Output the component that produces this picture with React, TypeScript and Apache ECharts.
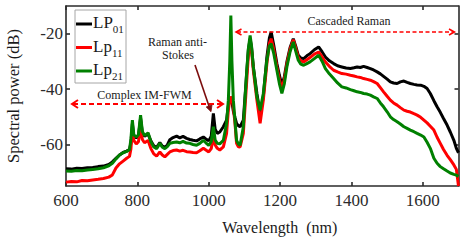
import React, { useEffect, useRef } from "react";
import * as echarts from "echarts";

const wavelengths = [
  600, 615, 630, 645, 660, 675, 690, 705, 720, 730,
  740, 750, 760, 770, 778, 782, 786, 790, 797, 803,
  809, 814, 820, 830, 838, 846, 854, 863, 870, 877,
  884, 891, 900, 910, 919, 928, 938, 947, 956, 966,
  975, 985, 992, 1000, 1007, 1013, 1018, 1024, 1031, 1041,
  1050, 1055, 1059, 1062, 1065, 1069, 1074, 1078, 1083, 1088,
  1097, 1106, 1111, 1116, 1120, 1125, 1135, 1144, 1153, 1163,
  1170, 1175, 1182, 1191, 1198, 1205, 1212, 1219, 1228, 1237,
  1244, 1251, 1258, 1266, 1275, 1284, 1296, 1308, 1318, 1327,
  1338, 1350, 1361, 1373, 1385, 1397, 1407, 1416, 1425, 1434,
  1444, 1453, 1462, 1472, 1481, 1490, 1500, 1509, 1518, 1528,
  1537, 1547, 1556, 1565, 1575, 1584, 1594, 1603, 1612, 1621,
  1631, 1640, 1649, 1658, 1668, 1677, 1687, 1694, 1700,
];

const lp01 = [
  -68.8, -68.9, -68.6, -68.7, -68.4, -68.3, -68.0, -67.8, -67.2, -66.3,
  -65.0, -63.8, -62.9, -62.4, -61.8, -59.5, -52.5, -57.0, -57.6, -57.0,
  -50.5, -55.8, -57.0, -56.2, -58.8, -60.5, -61.0, -59.3, -60.6, -61.0,
  -60.2, -58.3, -57.5, -57.0, -57.6, -57.1, -57.8, -58.2, -58.5, -58.7,
  -58.0, -57.3, -58.0, -58.7, -57.0, -48.8, -54.5, -56.0, -55.5, -53.6,
  -51.2, -46.0, -43.5, -43.0, -44.5, -48.0, -50.5, -52.4, -53.2, -53.6,
  -51.2, -35.0, -26.0, -21.8, -25.0, -32.0, -41.6, -48.8, -42.8, -28.4,
  -21.5, -19.4, -24.0, -30.8, -35.0, -38.6, -35.5, -30.2, -25.0, -21.8,
  -24.6, -27.8, -28.8, -29.0, -28.0, -27.2, -25.8, -24.8, -26.6, -28.4,
  -29.8, -30.8, -31.6, -32.0, -32.4, -32.6, -32.3, -32.0, -32.2, -31.8,
  -32.2, -32.6, -33.1, -33.8, -34.5, -35.4, -36.4, -37.4, -37.8, -38.0,
  -37.4, -37.1, -37.6, -38.0, -38.3, -38.5, -38.6, -39.0, -39.8, -41.6,
  -44.2, -46.4, -48.4, -50.6, -53.0, -55.5, -58.5, -61.4, -63.0,
];

const lp11 = [
  -73.6, -73.4, -73.5, -73.0, -73.1, -72.8, -72.6, -72.3, -71.8, -71.0,
  -68.5, -67.0, -66.0, -65.0, -64.3, -61.5, -54.5, -58.5, -59.8, -59.0,
  -54.0, -58.2, -59.4, -58.6, -61.5, -63.4, -64.2, -62.7, -63.8, -64.5,
  -63.6, -62.7, -62.2, -62.0, -62.4, -62.1, -62.6, -62.7, -62.9, -63.0,
  -62.3, -61.4, -62.0, -62.7, -61.5, -57.3, -60.2, -61.4, -62.0, -60.9,
  -56.0, -47.6, -44.0, -42.8, -43.5, -46.4, -53.0, -59.6, -60.8, -60.9,
  -56.0, -38.0, -28.0, -22.4, -26.0, -33.2, -44.0, -52.4, -44.0, -30.8,
  -23.5, -21.8, -25.5, -32.0, -36.5, -39.8, -36.5, -31.0, -25.6, -22.2,
  -25.3, -28.6, -29.8, -30.2, -29.4, -28.6, -27.4, -26.6, -28.4, -30.2,
  -31.8, -33.2, -33.8, -34.4, -34.6, -35.0, -35.3, -35.6, -35.8, -36.2,
  -36.5, -36.8, -37.3, -38.0, -39.5, -41.0, -42.6, -44.0, -45.0, -45.8,
  -46.7, -47.6, -48.0, -48.3, -48.9, -49.4, -50.2, -51.2, -52.2, -53.4,
  -54.8, -57.4, -59.6, -61.8, -63.9, -65.5, -67.4, -69.0, -75.0,
];

const lp21 = [
  -69.6, -69.7, -69.4, -69.5, -69.2, -69.0, -68.8, -68.4, -67.7, -66.8,
  -65.2, -63.8, -63.0, -62.5, -61.9, -58.0, -51.2, -56.5, -57.3, -56.5,
  -49.4, -55.3, -56.8, -55.8, -59.0, -60.9, -61.5, -59.6, -61.0, -61.5,
  -60.8, -59.6, -59.3, -59.1, -59.4, -58.9, -59.5, -59.6, -60.0, -60.3,
  -59.6, -58.5, -59.4, -60.3, -59.0, -53.6, -58.4, -59.6, -59.8, -58.5,
  -52.4, -44.0, -30.0, -13.4, -30.0, -44.0, -52.0, -58.5, -59.8, -60.3,
  -53.6, -34.4, -25.5, -20.6, -24.5, -32.0, -42.8, -47.6, -41.6, -29.6,
  -24.5, -23.6, -27.0, -33.2, -38.0, -41.6, -38.0, -32.0, -26.5, -23.0,
  -26.4, -29.6, -31.0, -31.4, -30.8, -30.2, -29.0, -27.8, -30.0, -32.6,
  -34.5, -36.2, -37.8, -39.2, -39.6, -40.2, -40.6, -41.0, -41.2, -41.6,
  -41.8, -42.2, -42.8, -43.4, -45.0, -46.4, -48.2, -50.0, -51.0, -51.8,
  -52.6, -53.6, -54.2, -54.8, -55.4, -56.0, -56.6, -57.3, -59.2, -61.4,
  -65.0, -66.8, -68.0, -68.8, -69.6, -70.3, -70.8, -71.1, -71.5,
];

const xTicks = [600, 800, 1000, 1200, 1400, 1600];
const yTicks = [-60, -40, -20];
const seriesNames = ["LP01", "Lp11", "Lp21"];
const legendMain = ["LP", "Lp", "Lp"];
const legendSub = ["01", "11", "21"];
const seriesColors = ["#000000", "#ff0000", "#008000"];

const FONT = "Liberation Serif";
const AXIS_COLOR = "#2b2b2b";

export default function App() {
  const ref = useRef<HTMLDivElement>(null);

  useEffect(() => {
    document.body.style.margin = "0";
    const chart = echarts.init(ref.current!, null, { renderer: "svg" });

    const allValues = [lp01, lp11, lp21];
    const series = allValues.map((vals, i) => ({
      name: seriesNames[i],
      type: "line",
      data: wavelengths.map((w, k) => [w, vals[k]]),
      showSymbol: false,
      symbol: "none",
      lineStyle: { color: seriesColors[i], width: 3 },
      itemStyle: { color: seriesColors[i] },
      z: 2 + i,
      clip: true,
    }));

    const axisLineStyle = { color: AXIS_COLOR, width: 1.6 };

    const legendGraphics: any[] = [
      {
        type: "rect",
        shape: { x: 75, y: 10, width: 51, height: 73 },
        style: { fill: "#ffffff", stroke: "#a6a6a6", lineWidth: 1 },
        z: 100,
      },
    ];
    const mainWidths = [19.8, 18.9, 18.9];
    for (let i = 0; i < 3; i++) {
      const ly = 24 + i * 23.5;
      legendGraphics.push({
        type: "line",
        shape: { x1: 76, y1: ly, x2: 92, y2: ly },
        style: { stroke: seriesColors[i], lineWidth: 3 },
        z: 101,
      });
      legendGraphics.push({
        type: "text",
        x: 93,
        y: ly - 1.5,
        style: {
          text: legendMain[i],
          fontFamily: FONT,
          fontSize: 17,
          fill: "#1a1a1a",
          align: "left",
          verticalAlign: "middle",
        },
        z: 101,
      });
      legendGraphics.push({
        type: "text",
        x: 93 + mainWidths[i],
        y: ly + 5,
        style: {
          text: legendSub[i],
          fontFamily: FONT,
          fontSize: 11,
          fill: "#1a1a1a",
          align: "left",
          verticalAlign: "middle",
        },
        z: 101,
      });
    }

    const annoText = (text: string, x: number, y: number) => ({
      type: "text",
      x,
      y,
      style: {
        text,
        fontFamily: FONT,
        fontSize: 12,
        fill: "#1a1a1a",
        align: "center",
        verticalAlign: "middle",
      },
      z: 90,
    });

    const annotationGraphics: any[] = [
      annoText("Complex IM-FWM", 144.5, 95),
      annoText("Raman anti-", 177.5, 41.5),
      annoText("Stokes", 178, 55),
      annoText("Cascaded Raman", 349, 20.5),
      // IM-FWM double arrow
      {
        type: "line",
        shape: { x1: 73, y1: 104, x2: 222, y2: 104 },
        style: { stroke: "#ff0000", lineWidth: 2, lineDash: [5, 3] },
        z: 90,
      },
      {
        type: "polyline",
        shape: { points: [[78, 100], [72, 104], [78, 108]] },
        style: { stroke: "#ff0000", lineWidth: 2, fill: null },
        z: 90,
      },
      {
        type: "polyline",
        shape: { points: [[217, 100], [223, 104], [217, 108]] },
        style: { stroke: "#ff0000", lineWidth: 2, fill: null },
        z: 90,
      },
      // Cascaded Raman double arrow
      {
        type: "line",
        shape: { x1: 237, y1: 32, x2: 453, y2: 32 },
        style: { stroke: "#ff0000", lineWidth: 1.3, lineDash: [4, 2.5] },
        z: 90,
      },
      {
        type: "polyline",
        shape: { points: [[241.5, 29], [236, 32], [241.5, 35]] },
        style: { stroke: "#ff0000", lineWidth: 1.5, fill: null },
        z: 90,
      },
      {
        type: "polyline",
        shape: { points: [[449, 29], [454.5, 32], [449, 35]] },
        style: { stroke: "#ff0000", lineWidth: 1.5, fill: null },
        z: 90,
      },
      // Raman anti-Stokes pointer
      {
        type: "line",
        shape: { x1: 195, y1: 65, x2: 209.3, y2: 107 },
        style: { stroke: "#7b0c0c", lineWidth: 1.6 },
        z: 90,
      },
      {
        type: "polygon",
        shape: { points: [[211, 111.7], [212, 105], [206.2, 107]] },
        style: { fill: "#7b0c0c", stroke: "#7b0c0c", lineWidth: 0.8 },
        z: 90,
      },
    ];

    const tickFmt = (v: number) => String(v);

    chart.setOption({
      animation: false,
      backgroundColor: "#ffffff",
      grid: {
        left: 66,
        right: 4.5,
        top: 6,
        bottom: 59,
        containLabel: false,
        outerBoundsMode: "none",
      },
      xAxis: [
        {
          type: "value",
          position: "bottom",
          min: 600,
          max: 1700,
          axisLine: { show: true, lineStyle: axisLineStyle },
          axisTick: { show: true, inside: true, length: 4, customValues: xTicks, lineStyle: axisLineStyle },
          axisLabel: {
            show: true,
            customValues: xTicks,
            formatter: tickFmt,
            fontFamily: FONT,
            fontSize: 17,
            color: AXIS_COLOR,
            margin: 6,
          },
          splitLine: { show: false },
          name: "Wavelength  (nm)",
          nameLocation: "middle",
          nameGap: 33,
          nameTextStyle: { fontFamily: FONT, fontSize: 16, color: "#1a1a1a", padding: [0, 0, 0, 35] },
        },
        {
          type: "value",
          position: "top",
          min: 600,
          max: 1700,
          axisLine: { show: true, lineStyle: axisLineStyle },
          axisTick: { show: true, inside: true, length: 4, customValues: xTicks, lineStyle: axisLineStyle },
          axisLabel: { show: false },
          splitLine: { show: false },
        },
      ],
      yAxis: [
        {
          type: "value",
          position: "left",
          min: -75,
          max: -10,
          axisLine: { show: true, lineStyle: axisLineStyle },
          axisTick: { show: true, inside: true, length: 4, customValues: yTicks, lineStyle: axisLineStyle },
          axisLabel: {
            show: true,
            customValues: yTicks,
            formatter: tickFmt,
            fontFamily: FONT,
            fontSize: 17,
            color: AXIS_COLOR,
            margin: 3,
          },
          splitLine: { show: false },
          name: "Spectral power (dB)",
          nameLocation: "middle",
          nameGap: 44,
          nameTextStyle: { fontFamily: FONT, fontSize: 16.5, color: "#1a1a1a" },
        },
        {
          type: "value",
          position: "right",
          min: -75,
          max: -10,
          axisLine: { show: true, lineStyle: axisLineStyle },
          axisTick: { show: true, inside: true, length: 4, customValues: yTicks, lineStyle: axisLineStyle },
          axisLabel: { show: false },
          splitLine: { show: false },
        },
      ],
      series,
      graphic: [...annotationGraphics, ...legendGraphics],
    });

    return () => chart.dispose();
  }, []);

  return <div ref={ref} style={{ width: 463, height: 245 }} />;
}
